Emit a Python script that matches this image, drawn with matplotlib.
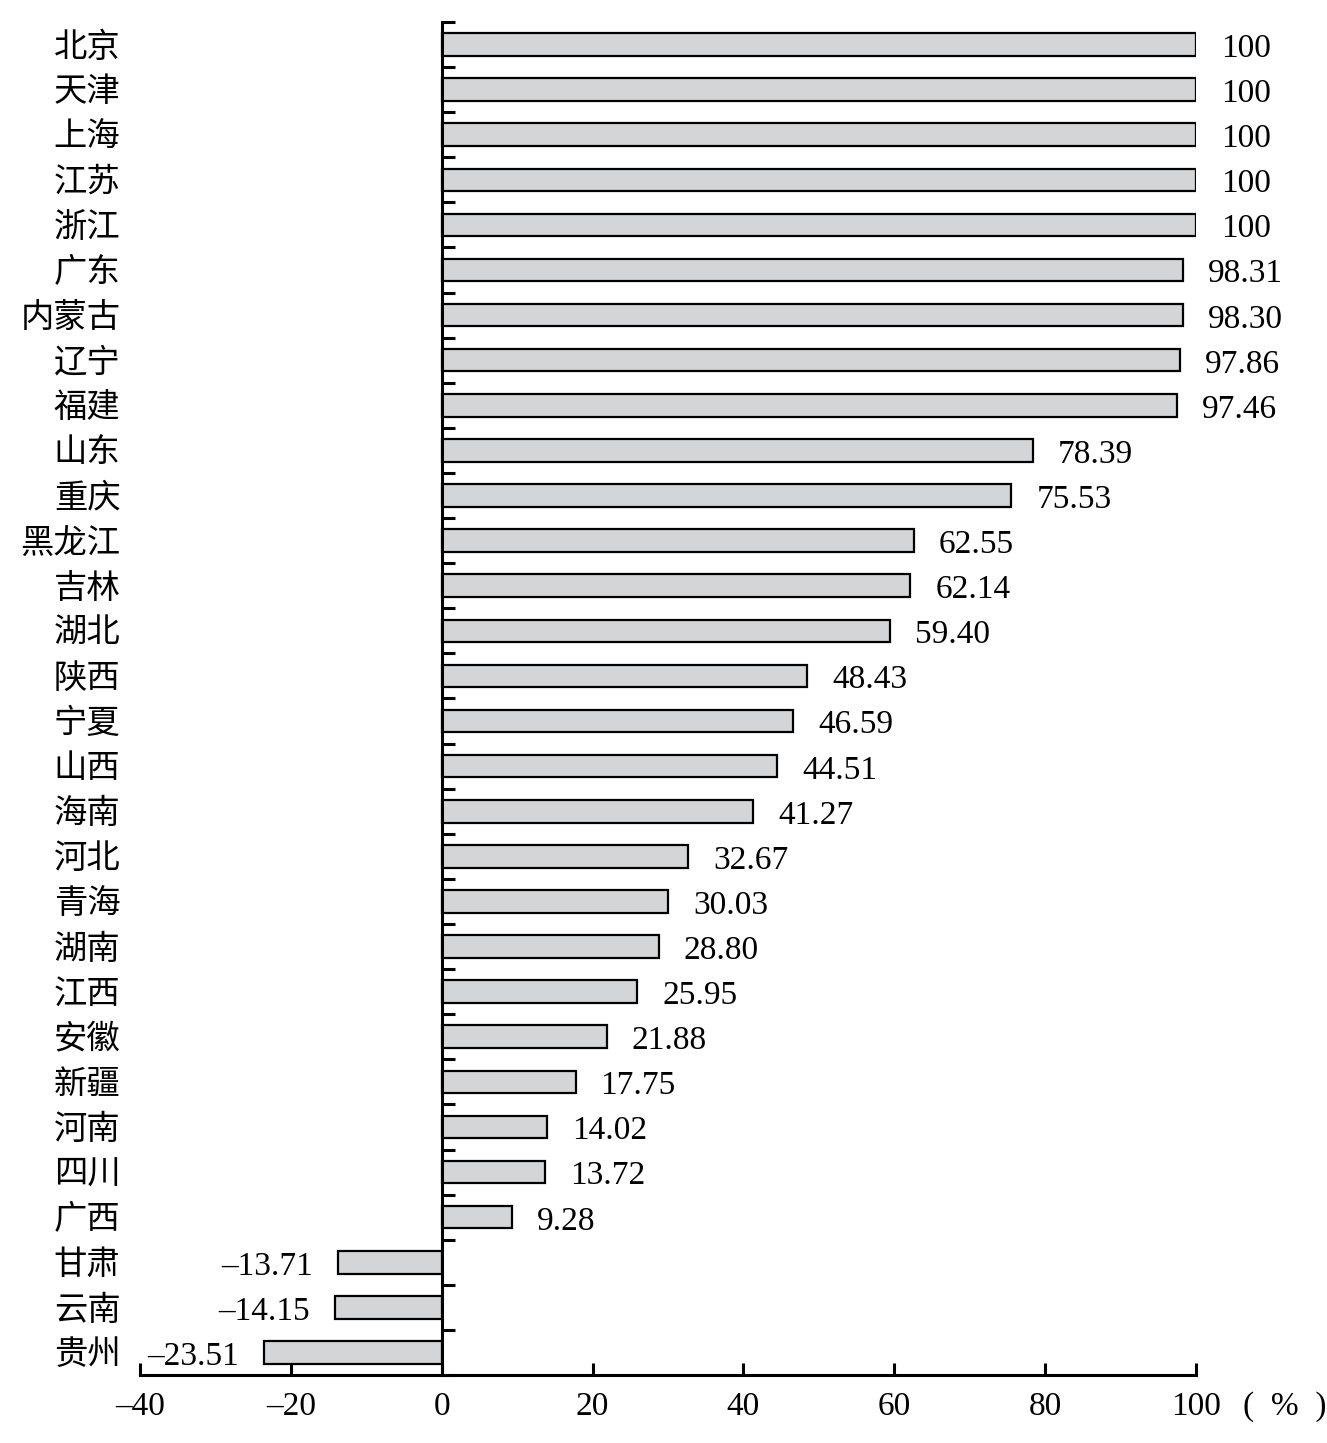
import matplotlib
matplotlib.use("Agg")
import numpy as np
from matplotlib import pyplot as plt
from matplotlib.ticker import FixedLocator

plt.rcParams['font.family'] = ['Liberation Serif', 'Noto Sans CJK SC']

# provinces and values (%)
provinces = ["北京", "天津", "上海", "江苏", "浙江", "广东", "内蒙古", "辽宁", "福建",
             "山东", "重庆", "黑龙江", "吉林", "湖北", "陕西", "宁夏", "山西", "海南",
             "河北", "青海", "湖南", "江西", "安徽", "新疆", "河南", "四川", "广西",
             "甘肃", "云南", "贵州"]
values = [100, 100, 100, 100, 100, 98.31, 98.30, 97.86, 97.46,
          78.39, 75.53, 62.55, 62.14, 59.40, 48.43, 46.59, 44.51, 41.27,
          32.67, 30.03, 28.80, 25.95, 21.88, 17.75, 14.02, 13.72, 9.28,
          -13.71, -14.15, -23.51]
x_ticks = [-40, -20, 0, 20, 40, 60, 80, 100]

fig = plt.figure(figsize=(13.27, 14.43), dpi=100)
ax = fig.add_axes([0.1055, 0.0471, 0.7958, 0.9377])

ypos = np.arange(len(provinces))
ax.barh(ypos, values, height=0.5, color="#d3d5d7", edgecolor="black", linewidth=1.6, zorder=2)

# value labels
for y, v in zip(ypos, values):
    txt = "100" if v == 100 else f"{v:.2f}".replace("-", "\u2013")
    if v >= 0:
        ax.annotate(txt, (v, y), xytext=(18, -3), textcoords="offset points",
                    ha="left", va="center", fontsize=24)
    else:
        ax.annotate(txt, (v, y), xytext=(-18, -3), textcoords="offset points",
                    ha="right", va="center", fontsize=24)

ax.set_xlim(-40, 100)
ax.set_ylim(len(provinces) - 0.5, -0.5)

ax.set_yticks(ypos)
ax.yaxis.set_minor_locator(FixedLocator(np.arange(-0.5, len(provinces), 1.0)))
ax.yaxis.set_ticks_position('both')
ax.tick_params(axis='y', which='major', left=True, right=False, length=0, pad=14,
               labelsize=24)
ax.tick_params(axis='y', which='minor', left=False, right=True, direction='out',
               length=9, width=2.2)
ax.set_yticklabels(provinces)
for lab in ax.get_yticklabels():
    lab.set_fontfamily(['Noto Sans CJK SC'])
    lab.set_fontsize(24)

ax.set_xticks(x_ticks)
ax.set_xticklabels([str(t).replace("-", "\u2013") for t in x_ticks])
ax.tick_params(axis='x', which='major', direction='in', length=9, width=2.2,
               labelsize=24, pad=12)

ax.spines['top'].set_visible(False)
ax.spines['left'].set_visible(False)
ax.spines['right'].set_position(('data', 0))
ax.spines['right'].set_linewidth(2.2)
ax.spines['bottom'].set_linewidth(2.2)
ax.spines['right'].set_zorder(3)

ax.annotate("(  %  )", (100, 0), xycoords=('data', 'axes fraction'), xytext=(34, -12),
            textcoords="offset points", ha="left", va="top", fontsize=24)

fig.savefig("out.png", dpi=100)
